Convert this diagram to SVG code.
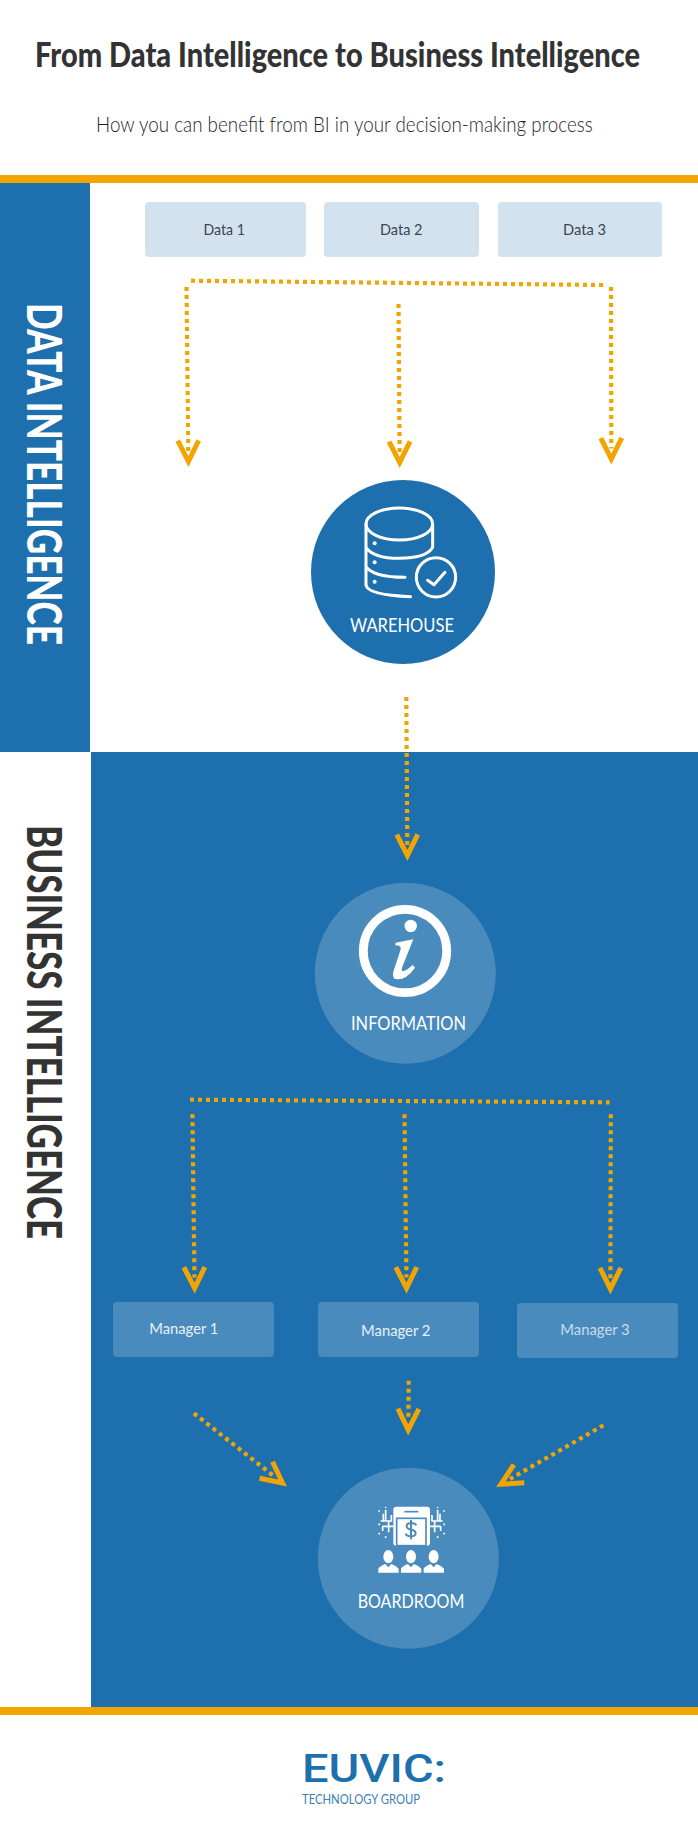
<svg xmlns="http://www.w3.org/2000/svg" xmlns:xlink="http://www.w3.org/1999/xlink" width="698" height="1824" viewBox="0 0 698 1824">
<style>
text{font-family:"Lato","Noto Sans","Liberation Sans",sans-serif}
.title{font-size:33.5px;font-weight:900;fill:#333}
.sub{font-size:21px;font-weight:300;fill:#1f1f1f}
.side{font-size:47px;font-weight:900}
.data{font-size:16px;fill:#3d4650}
.mgr{font-size:16px;fill:#e9f1f7}
.cap{font-size:20px;font-weight:400;fill:#fff}
.conn{fill:none;stroke:#F2A500;stroke-width:4.2;stroke-dasharray:4 4}
.ln{fill:none;stroke:#fff;stroke-width:9;stroke-linecap:round;stroke-linejoin:round}
</style>
<defs>
<marker id="arrow" markerUnits="userSpaceOnUse" markerWidth="40" markerHeight="40" refX="0" refY="0" orient="auto" overflow="visible">
<polyline points="-10.5,-10.5 10.5,0 -10.5,10.5" fill="none" stroke="#F2A500" stroke-width="5" stroke-miterlimit="10"/>
</marker>
<g id="person"><ellipse cx="235" cy="290" rx="15" ry="20" fill="#fff"/><path d="M205 338V326Q210 318 226 312L235 322L244 312Q260 318 266 326V338Z" fill="#fff"/></g>
<g id="circuit" fill="none" stroke="#fff" stroke-width="5">
<path d="M47 44V78M32 78H66M40 56V78M56 78V112M38 94H70M38 94V108M64 60V78"/>
<path d="M25 48h5M25 88h5M25 116h5M47 124v5M47 36v3" stroke-width="5"/>
</g>
</defs>
<rect width="698" height="1824" fill="#fff"/>
<g id="background">
<rect x="0" y="183" width="90" height="569" fill="#1E6FAD"/>
<rect x="91" y="752" width="607" height="955" fill="#1E6FAD"/>
<rect x="0" y="175" width="698" height="8" fill="#F2A500"/>
<rect x="0" y="1707" width="698" height="8" fill="#F2A500"/>
</g>
<g id="header">
<text class="title" transform="translate(35,67) scale(0.85,1)" textLength="711.8" lengthAdjust="spacingAndGlyphs">From Data Intelligence to Business Intelligence</text>
<text class="sub" transform="translate(96,132) scale(0.9,1)" textLength="552" lengthAdjust="spacingAndGlyphs">How you can benefit from BI in your decision-making process</text>
</g>
<g id="label-data-intelligence"><text class="side" fill="#fff" transform="translate(26.7,303) rotate(90)" textLength="342" lengthAdjust="spacingAndGlyphs">DATA INTELLIGENCE</text></g>
<g id="label-business-intelligence"><text class="side" fill="#333" transform="translate(26.7,825) rotate(90)" textLength="414" lengthAdjust="spacingAndGlyphs">BUSINESS INTELLIGENCE</text></g>
<g id="connectors">
<path class="conn" d="M191 280.7L603 285"/>
<path class="conn" d="M186.5 287L188.3 451" marker-end="url(#arrow)"/>
<path class="conn" d="M398.5 304L399.6 452" marker-end="url(#arrow)"/>
<path class="conn" d="M611 287L611.3 448.5" marker-end="url(#arrow)"/>
<path class="conn" d="M406.3 697L407.3 845" marker-end="url(#arrow)"/>
<path class="conn" d="M190 1099.7L609.6 1102.3"/>
<path class="conn" d="M192.4 1114.3L194.5 1277.6" marker-end="url(#arrow)"/>
<path class="conn" d="M404.5 1114.3L406.4 1277.6" marker-end="url(#arrow)"/>
<path class="conn" d="M610.8 1114.3L610.4 1278.3" marker-end="url(#arrow)"/>
<path class="conn" d="M408.7 1380.7L408.3 1419.3" marker-end="url(#arrow)"/>
<path class="conn" d="M193.9 1413.3L274.3 1476.5" marker-end="url(#arrow)"/>
<path class="conn" d="M603.4 1425.3L510 1479" marker-end="url(#arrow)"/>
</g>
<g id="data-1"><rect x="145" y="202" width="161" height="55" rx="4" fill="#D2E2EF"/><text class="data" x="203.5" y="235" textLength="41.5" lengthAdjust="spacingAndGlyphs">Data 1</text></g>
<g id="data-2"><rect x="324" y="202" width="155" height="55" rx="4" fill="#D2E2EF"/><text class="data" x="380" y="235" textLength="42.5" lengthAdjust="spacingAndGlyphs">Data 2</text></g>
<g id="data-3"><rect x="498" y="202" width="164" height="55" rx="4" fill="#D2E2EF"/><text class="data" x="563" y="235" textLength="43" lengthAdjust="spacingAndGlyphs">Data 3</text></g>
<g id="warehouse">
<circle cx="403" cy="572" r="92" fill="#1E6FAD"/>
<g transform="translate(280,460) scale(0.3333)">
<ellipse class="ln" cx="358" cy="192" rx="100" ry="48"/>
<path class="ln" d="M258 192V375Q262 405 392 410M458 192V262Q440 295 358 295Q280 295 258 262M258 320Q280 352 375 352"/>
<circle cx="284" cy="250" r="6" fill="#fff"/><circle cx="284" cy="307" r="6" fill="#fff"/><circle cx="284" cy="365" r="6" fill="#fff"/>
<circle class="ln" cx="468" cy="352" r="59" style="fill:#1E6FAD"/>
<path class="ln" d="M443 361L462 374L495 337"/>
</g>
<text class="cap" x="350" y="632" textLength="104" lengthAdjust="spacingAndGlyphs">WAREHOUSE</text>
</g>
<g id="information">
<circle cx="405.3" cy="973.3" r="90.5" fill="#4A8BBD"/>
<circle cx="405" cy="951" r="41.7" fill="none" stroke="#fff" stroke-width="8.8"/>
<circle cx="410.7" cy="926" r="6.2" fill="#fff"/>
<path transform="translate(360,900) scale(0.3333)" fill="#fff" d="M107 128L160 118L127 200Q122 215 132 213Q145 208 158 195L165 203Q140 238 113 238Q95 238 100 215L122 148Q125 136 106 136Z"/>
<text class="cap" x="351" y="1030" textLength="115" lengthAdjust="spacingAndGlyphs">INFORMATION</text>
</g>
<g id="manager-1"><rect x="113" y="1302" width="161" height="55" rx="4" fill="#4A8BBD"/><text class="mgr" x="149.3" y="1334" textLength="69" lengthAdjust="spacingAndGlyphs">Manager 1</text></g>
<g id="manager-2"><rect x="318" y="1302" width="161" height="55" rx="4" fill="#4A8BBD"/><text class="mgr" x="361" y="1336" textLength="69.4" lengthAdjust="spacingAndGlyphs">Manager 2</text></g>
<g id="manager-3"><rect x="517" y="1303" width="161" height="55" rx="4" fill="#4A8BBD"/><text class="mgr" x="560.3" y="1335" textLength="69.4" lengthAdjust="spacingAndGlyphs" style="fill:#c9dcec">Manager 3</text></g>
<g id="boardroom">
<circle cx="408.3" cy="1558.3" r="90.5" fill="#4A8BBD"/>
<g transform="translate(370,1495) scale(0.3333)">
<rect x="70" y="35" width="110" height="117" rx="9" fill="#fff"/>
<path d="M103 50H145" stroke="#4A8BBD" stroke-width="5" fill="none"/>
<rect x="80" y="70" width="88" height="82" fill="none" stroke="#4A8BBD" stroke-width="5"/>
<path d="M139 91Q136 84 123 84Q110 84 110 94Q110 102 123 104Q137 106 137 115Q137 124 123 124Q110 124 107 116M123 75V133" fill="none" stroke="#4A8BBD" stroke-width="6"/>
<use xlink:href="#circuit" href="#circuit"/>
<use xlink:href="#circuit" href="#circuit" transform="translate(250,0) scale(-1,1)"/>
</g>
<g transform="translate(310,1460) scale(0.3333)">
<use xlink:href="#person" href="#person"/>
<use xlink:href="#person" href="#person" x="68"/>
<use xlink:href="#person" href="#person" x="136"/>
</g>
<text class="cap" x="357.7" y="1608" textLength="106.6" lengthAdjust="spacingAndGlyphs">BOARDROOM</text>
</g>
<g id="logo">
<text x="302" y="1781.7" font-size="39" font-weight="500" fill="#1E6FAD" textLength="144" lengthAdjust="spacingAndGlyphs" style="font-family:'Roboto',sans-serif">EUVIC:</text>
<text x="302" y="1803.7" font-size="13" fill="#3C80B8" textLength="118" lengthAdjust="spacingAndGlyphs">TECHNOLOGY GROUP</text>
</g>
</svg>
